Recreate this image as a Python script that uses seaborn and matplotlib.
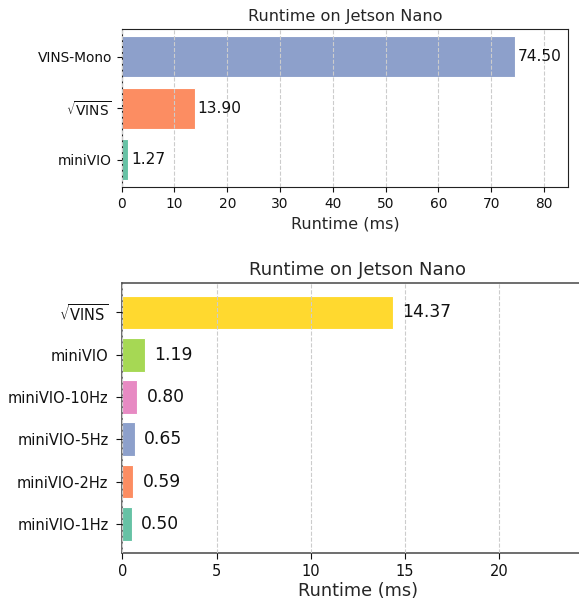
import matplotlib
matplotlib.use("Agg")
import matplotlib.pyplot as plt
import seaborn as sns
import pandas as pd

# ---- data ----
top_methods = ["VINS-Mono", r"$\sqrt{\mathrm{VINS}}$", "miniVIO"]
top_values = [74.50, 13.90, 1.27]
top_colors = ["#8da0cb", "#fc8d62", "#66c2a5"]

bottom_methods = [r"$\sqrt{\mathrm{VINS}}$", "miniVIO", "miniVIO-10Hz",
                  "miniVIO-5Hz", "miniVIO-2Hz", "miniVIO-1Hz"]
bottom_values = [14.37, 1.19, 0.80, 0.65, 0.59, 0.50]
bottom_colors = ["#ffd92f", "#a6d854", "#e78ac3", "#8da0cb", "#fc8d62", "#66c2a5"]

title = "Runtime on Jetson Nano"
xlabel = "Runtime (ms)"

sns.set_style("white")
plt.rcParams["font.family"] = ["DejaVu Sans"]
plt.rcParams["mathtext.fontset"] = "dejavusans"
plt.rcParams["mathtext.default"] = "regular"

fig = plt.figure(figsize=(5.79, 5.99), dpi=100)
ax1 = fig.add_axes([0.2102, 0.6873, 0.7713, 0.2643])
ax2 = fig.add_axes([0.2112, 0.0768, 0.814, 0.4503])


def draw(ax, methods, values, colors, xmax, tick_fs, val_fs, lab_fs, title_fs,
         spine_color, spine_lw, tick_len, tick_pad, labelpad):
    df = pd.DataFrame({"method": methods, "runtime": values})
    sns.barplot(data=df, y="method", x="runtime", hue="method",
                palette=colors, order=methods, hue_order=methods,
                orient="h", width=0.8, saturation=1, legend=False,
                edgecolor="white", linewidth=0.8, ax=ax)
    n = len(methods)
    lo, hi = -0.4, n - 1 + 0.4
    m = 0.05 * (hi - lo)
    ax.set_ylim(hi + m, lo - m)
    ax.set_xlim(0, xmax)
    for i, v in enumerate(values):
        ax.text(v + 0.5, i, f"{v:.2f}", va="center", ha="left",
                fontsize=val_fs, color="#111111")
    ax.xaxis.grid(True, linestyle="--", color="#cccccc", linewidth=0.8)
    ax.yaxis.grid(False)
    ax.set_axisbelow(False)
    ax.set_ylabel("")
    ax.set_xlabel(xlabel, fontsize=lab_fs, labelpad=labelpad)
    ax.set_title(title, fontsize=title_fs, pad=6)
    ax.tick_params(axis="both", which="both", length=tick_len, width=0.8,
                   pad=tick_pad, labelsize=tick_fs, left=True, bottom=True,
                   colors="#111111")
    for s in ax.spines.values():
        s.set_visible(True)
        s.set_color(spine_color)
        s.set_linewidth(spine_lw)


draw(ax1, top_methods, top_values, top_colors, 84.6,
     tick_fs=9.9, val_fs=11.1, lab_fs=11.5, title_fs=11.6,
     spine_color="#222222", spine_lw=0.8, tick_len=3.5, tick_pad=3.5,
     labelpad=4)
ax1.set_xticks(range(0, 81, 10))

draw(ax2, bottom_methods, bottom_values, bottom_colors, 25,
     tick_fs=10.5, val_fs=12.3, lab_fs=12.8, title_fs=13,
     spine_color="#555555", spine_lw=1.2, tick_len=4.5, tick_pad=5.5,
     labelpad=2)
ax2.set_xticks(range(0, 21, 5))
ax2.tick_params(axis="x", pad=3.5)

fig.savefig("out.png", dpi=100)
